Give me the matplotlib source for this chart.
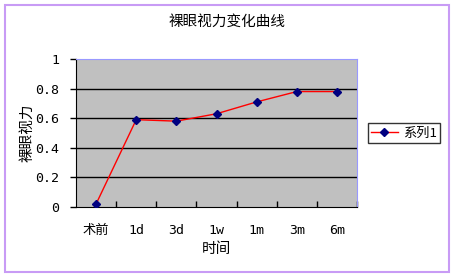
import matplotlib
matplotlib.use("Agg")
import matplotlib.pyplot as plt
from matplotlib.patches import Rectangle

plt.rcParams['font.family'] = ['Noto Sans CJK SC', 'DejaVu Sans']
tick_font = ['DejaVu Sans Mono', 'Noto Sans CJK SC']

categories = ["术前", "1d", "3d", "1w", "1m", "3m", "6m"]
vision = [0.02, 0.59, 0.58, 0.63, 0.71, 0.78, 0.78]
y_ticks = [0, 0.2, 0.4, 0.6, 0.8, 1]
y_labels = ["0", "0.2", "0.4", "0.6", "0.8", "1"]

fig = plt.figure(figsize=(4.55, 2.77), dpi=100)
fig.patches.append(Rectangle((5 / 455, 5 / 277), 444 / 455, 267 / 277,
                             transform=fig.transFigure, fill=False,
                             edgecolor="#C89BF5", linewidth=1.5))

ax = fig.add_axes([76 / 455, 70 / 277, 281 / 455, 148 / 277])
ax.set_facecolor("#C0C0C0")

x = list(range(len(categories)))
ax.plot(x, vision, color="red", linewidth=1.0, marker="D", markersize=4.5,
        markerfacecolor="#000080", markeredgecolor="#000080", label="系列1",
        zorder=3)

ax.set_xlim(-0.5, len(categories) - 0.5)
ax.set_ylim(0, 1)
ax.set_yticks(y_ticks)
ax.set_yticklabels(y_labels, fontsize=9.5, family=tick_font)
for yv in y_ticks[1:-1]:
    ax.axhline(yv, color="black", linewidth=1.0, zorder=1)

ax.set_xticks(x)
ax.set_xticklabels(categories, fontsize=9.5, family=tick_font)
ax.set_xticks([i + 0.5 for i in x], minor=True)
ax.tick_params(axis="x", which="major", length=0, pad=12)
ax.tick_params(axis="x", which="minor", direction="in", length=4, width=1)
ax.tick_params(axis="y", direction="out", length=4, width=1, pad=8)

for side in ["left", "bottom"]:
    ax.spines[side].set_color("black")
for side in ["top", "right"]:
    ax.spines[side].set_color("#9999FF")

ax.set_xlabel("时间", fontsize=10.5, labelpad=4)
ax.set_ylabel("裸眼视力", fontsize=10.5, labelpad=1)
fig.text(227 / 455, 1 - 22 / 277, "裸眼视力变化曲线", ha="center", va="center",
         fontsize=10.5)

leg = ax.legend(loc="center left", bbox_to_anchor=(368 / 455, 1 - 133 / 277),
                bbox_transform=fig.transFigure, fontsize=9.5, frameon=True,
                fancybox=False, handlelength=2.0, borderpad=0.25,
                handletextpad=0.4, borderaxespad=0)
leg.get_frame().set_edgecolor("black")
leg.get_frame().set_linewidth(1.0)

fig.savefig("out.png", dpi=100)
